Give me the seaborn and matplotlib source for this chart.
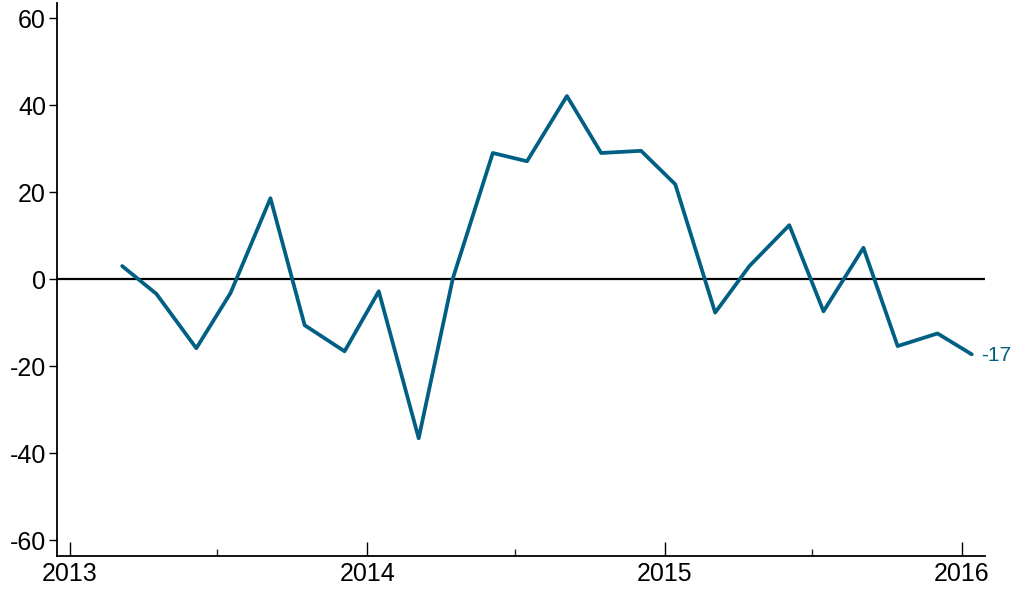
import pandas as pd
import matplotlib
matplotlib.use("Agg")
import matplotlib.pyplot as plt
import matplotlib.dates as mdates
import seaborn as sns

# Survey release dates (8 per year) and index values
dates = [
    "2013-03-06", "2013-04-17", "2013-06-05", "2013-07-17", "2013-09-04",
    "2013-10-16", "2013-12-04", "2014-01-15", "2014-03-05", "2014-04-16",
    "2014-06-04", "2014-07-16", "2014-09-03", "2014-10-15", "2014-12-03",
    "2015-01-14", "2015-03-04", "2015-04-15", "2015-06-03", "2015-07-15",
    "2015-09-02", "2015-10-14", "2015-12-02", "2016-01-13",
]
values = [
    3.0, -3.4, -15.9, -3.2, 18.6,
    -10.6, -16.6, -2.8, -36.6, 0.2,
    29.0, 27.1, 42.1, 29.0, 29.5,
    21.8, -7.7, 3.0, 12.4, -7.4,
    7.2, -15.4, -12.5, -17.3,
]
y_ticks = [-60, -40, -20, 0, 20, 40, 60]
last_label = "-17"

LINE_COLOR = "#005F83"

df = pd.DataFrame({"date": pd.to_datetime(dates), "value": values})

sns.set_theme(style="ticks")
plt.rcParams["font.family"] = ["Liberation Sans", "DejaVu Sans"]
plt.rcParams["axes.unicode_minus"] = False

fig = plt.figure(figsize=(10.24, 5.91), dpi=100)
ax = fig.add_axes([0.0557, 0.059, 0.906, 0.936])

ax.axhline(0, color="black", lw=1.6, zorder=1)
sns.lineplot(data=df, x="date", y="value", ax=ax, color=LINE_COLOR, lw=2.7, zorder=2)

# end label
ax.annotate(last_label, xy=(df["date"].iloc[-1], df["value"].iloc[-1]),
            xytext=(7, -1), textcoords="offset points", va="center", ha="left",
            color=LINE_COLOR, fontsize=15)

ax.set_xlim(pd.Timestamp("2012-12-16"), pd.Timestamp("2016-01-29"))
ax.set_ylim(-63.7, 63.5)
ax.set_yticks(y_ticks)

ax.xaxis.set_major_locator(mdates.YearLocator())
ax.xaxis.set_major_formatter(mdates.DateFormatter("%Y"))
ax.xaxis.set_minor_locator(mdates.MonthLocator(bymonth=7))

ax.tick_params(axis="x", which="major", direction="in", length=10, width=1,
               labelsize=18, pad=4, colors="black")
ax.tick_params(axis="x", which="minor", direction="in", length=5, width=1)
ax.tick_params(axis="y", direction="out", length=6, width=1, labelsize=18, pad=2,
               colors="black")

sns.despine(ax=ax)
for side in ["left", "bottom"]:
    ax.spines[side].set_color("black")
    ax.spines[side].set_linewidth(1.3)

ax.set_xlabel("")
ax.set_ylabel("")
ax.grid(False)

fig.savefig("out.png", dpi=100)
